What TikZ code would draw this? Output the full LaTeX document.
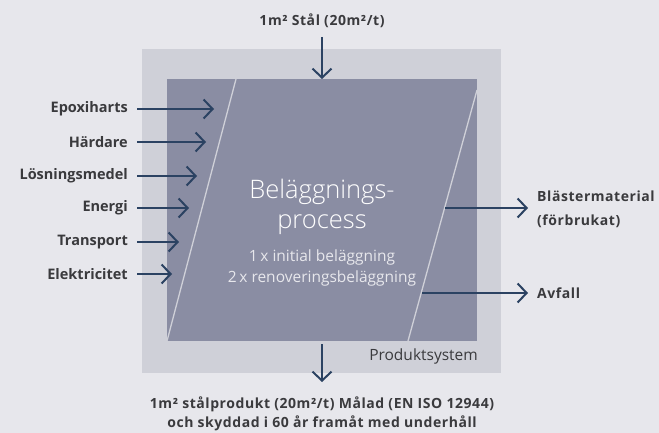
\documentclass[tikz,border=0pt]{standalone}
\usepackage{fontspec}
\setmainfont{Open Sans}
\IfFontExistsTF{Open Sans Light}{\newfontfamily\lightfont{Open Sans Light}}{\newfontfamily\lightfont{Open Sans}}
\usetikzlibrary{positioning,arrows.meta}
\definecolor{BgGray}{HTML}{E7E7EC}
\definecolor{SysGray}{HTML}{CFD0D8}
\definecolor{ProcGray}{HTML}{8A8DA3}
\definecolor{FlowBlue}{HTML}{2B4262}
\definecolor{TextGray}{HTML}{3A3A3D}

\begin{document}
\begin{tikzpicture}[x=1pt, y=-1pt,
		flow/.style={draw=FlowBlue, line width=2pt, -{Straight Barb[length=9pt, width=19pt, line width=2pt]}},
		lbl/.style={font=\bfseries\fontsize{14.5}{16}\selectfont, text=TextGray, inner ysep=0pt, inner xsep=9pt},
		wide/.style={font=\bfseries\fontsize{14}{#1}\selectfont\addfontfeatures{LetterSpace=4}},
		wide/.default=16,
		edge/.style={draw=SysGray, line width=1.3pt}
		]
		
		% ===== bakgrund och system =====
		\fill[BgGray] (0,0) rectangle (659,433);
		\useasboundingbox (0,0) rectangle (659,433);
		\fill[SysGray] (142,49) rectangle (501,373);
		\fill[ProcGray] (167,79) rectangle (477,341);
		\draw[edge] (236,79) -- (167,341);
		\draw[edge] (477,90) -- (408,341);
		
		% ===== processtext =====
		\node[text=white, font=\lightfont\fontsize{25.5}{30}\selectfont, align=center] (proc) at (322,207) {Beläggnings-\\process};
		\node[text=BgGray, font=\fontsize{15.5}{21}\selectfont, align=center] (cycles) at (322,268) {1\,x initial beläggning\\2\,x renoveringsbeläggning};
		\node[text=TextGray, font=\fontsize{15.5}{17}\selectfont, anchor=east, inner sep=0pt] (sys) at (478,356) {Produktsystem};
		
		% ===== inflöden =====
		\node[lbl, wide] (steel) at (322,21) {1m² Stål (20m²/t)};
		\coordinate (steelStart) at (322,37);
		\coordinate (steelTip) at (322,79);
		\draw[flow] (steelStart) -- (steelTip);
		
		\foreach \t/\y/\tx [count=\i from 1] in {Epoxiharts/109/214, Härdare/142/206, Lösningsmedel/176/197, Energi/208/189, Transport/242/179, Elektricitet/274/172}{
			\node[lbl, anchor=east] (in\i) at (137,\y) {\t};
			\coordinate (tip\i) at (\tx,\y);
			\draw[flow] (in\i.east) -- (tip\i);
		}
		
		% ===== utflöden =====
		\coordinate (blastStart) at (445,208);
		\coordinate (wasteStart) at (422,293);
		\node[lbl, wide=24, anchor=west, align=left] (blast) at (528,209) {Blästermaterial\\(förbrukat)};
		\node[lbl, wide, anchor=west] (waste) at (528,293) {Avfall};
		\draw[flow] (blastStart) -- (blastStart -| blast.west);
		\draw[flow] (wasteStart) -- (waste.west);
		
		\coordinate (prodStart) at (322,344);
		\coordinate (prodTip) at (322,382);
		\node[lbl, wide=19, align=center] (prod) at (322,414) {1m² stålprodukt (20m²/t) Målad (EN ISO 12944)\\och skyddad i 60 år framåt med underhåll};
		\draw[flow] (prodStart) -- (prodTip);
		
	\end{tikzpicture}
\end{document}
